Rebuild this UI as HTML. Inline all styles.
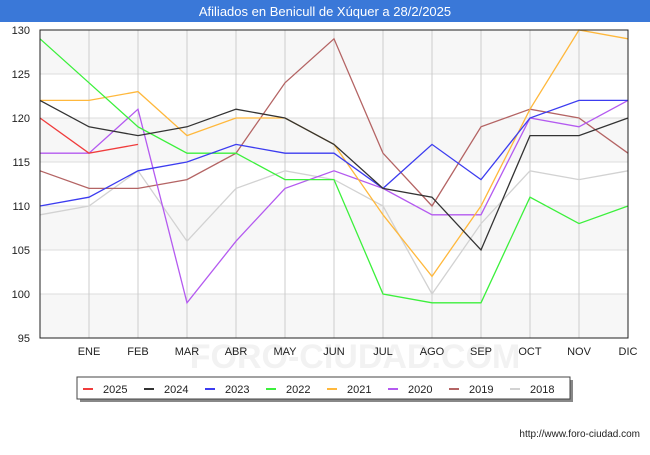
<!DOCTYPE html>
<html><head><meta charset="utf-8"><style>
body{margin:0;width:650px;height:450px;background:#fff;font-family:"Liberation Sans",sans-serif;overflow:hidden}
</style></head><body>
<svg width="650" height="450">
<rect x="0" y="0" width="650" height="22" fill="#3a78d8"/>
<text x="325" y="16" text-anchor="middle" fill="#fff" font-size="13">Afiliados en Benicull de Xúquer a 28/2/2025</text>
<g id="grid"></g><g id="series"></g><g id="axes"></g>
<rect x="80" y="380" width="493" height="22" fill="#888"/>
<rect x="77" y="377" width="493" height="22" fill="#fff" stroke="#444"/>
<g id="legend"></g>
<text x="640" y="437" text-anchor="end" font-size="10" fill="#222">http://www.foro-ciudad.com</text>
</svg>
<script>
const months=["","ENE","FEB","MAR","ABR","MAY","JUN","JUL","AGO","SEP","OCT","NOV","DIC"];
const yTicks=[95,100,105,110,115,120,125,130];
const names=["2025","2024","2023","2022","2021","2020","2019","2018"];
const colors=["#f03c3c","#333333","#3c3cf0","#3cf03c","#ffb83c","#b45af0","#b46464","#d2d2d2"];
const s2025=[120,116,117];
const s2024=[122,119,118,119,121,120,117,112,111,105,118,118,120];
const s2023=[110,111,114,115,117,116,116,112,117,113,120,122,122];
const s2022=[129,124,119,116,116,113,113,100,99,99,111,108,110];
const s2021=[122,122,123,118,120,120,117,109,102,110,121,130,129];
const s2020=[116,116,121,99,106,112,114,112,109,109,120,119,122];
const s2019=[114,112,112,113,116,124,129,116,110,119,121,120,116];
const s2018=[109,110,114,106,112,114,113,110,100,108,114,113,114];
const series=[s2025,s2024,s2023,s2022,s2021,s2020,s2019,s2018];
const NS="http://www.w3.org/2000/svg";
const X=i=>40+i*(588/12), Y=v=>30+(130-v)*308/35;
function mk(t,a,p){const e=document.createElementNS(NS,t);for(const k in a)e.setAttribute(k,a[k]);p.appendChild(e);return e;}
const g=document.getElementById('grid'),ax=document.getElementById('axes'),sg=document.getElementById('series'),lg=document.getElementById('legend');
for(let k=0;k<yTicks.length-1;k++){if(k%2==0){const r=mk('rect',{x:40,y:Y(yTicks[k+1]),width:588,height:Y(yTicks[k])-Y(yTicks[k+1]),fill:'#f7f7f7'},g);

}}
yTicks.forEach(v=>{const l=mk('line',{x1:40,x2:628,y1:Y(v),y2:Y(v),stroke:'#ddd'},g);


const t=mk('text',{x:30,y:Y(v)+4,'text-anchor':'end','font-size':11,fill:'#222'},ax);t.textContent=v;

});
months.forEach((m,i)=>{const l=mk('line',{x1:X(i),x2:X(i),y1:30,y2:338,stroke:'#ccc'},g);


const t=mk('text',{x:X(i),y:355,'text-anchor':'middle','font-size':11,fill:'#222'},ax);t.textContent=m;

});
const wm=mk('text',{x:355,y:368,'text-anchor':'middle','font-size':34,fill:'#f2f2f2','font-weight':'bold'},g);wm.textContent='FORO-CIUDAD.COM';


for(let k=series.length-1;k>=0;k--){const p=mk('polyline',{points:series[k].map((v,i)=>X(i)+','+Y(v)).join(' '),fill:'none',stroke:colors[k],'stroke-width':1.3},sg);

}
const ax1=mk('rect',{x:40,y:30,width:588,height:308,fill:'none',stroke:'#222'},ax);


names.forEach((n,k)=>{const x0=83+k*61;
const l=mk('line',{x1:x0,x2:x0+10,y1:389,y2:389,stroke:colors[k],'stroke-width':2},lg);


const t=mk('text',{x:x0+20,y:393,'font-size':11,fill:'#222'},lg);t.textContent=n;

});
</script>
</body></html>
